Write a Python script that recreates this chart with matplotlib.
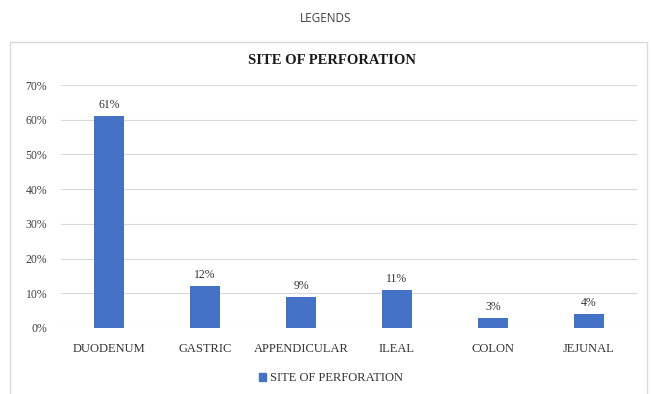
import matplotlib
matplotlib.use("Agg")
import matplotlib.pyplot as plt
from matplotlib.patches import Rectangle

categories = ["DUODENUM", "GASTRIC", "APPENDICULAR", "ILEAL", "COLON", "JEJUNAL"]
values = [61, 12, 9, 11, 3, 4]
yticks = [0, 10, 20, 30, 40, 50, 60, 70]
series_name = "SITE OF PERFORATION"

W, H = 652, 394
fig = plt.figure(figsize=(W / 100, H / 100), dpi=100)
fig.patch.set_facecolor("white")

# chart box border (extends past bottom edge, as in the reference)
fig.patches.append(Rectangle((10 / W, -5 / H), 637 / W, (H - 42 + 5) / H,
                             transform=fig.transFigure, fill=False,
                             edgecolor="#d9d9d9", linewidth=1.0))

fig.text(326 / W, 1 - 18 / H, "LEGENDS", ha="center", va="center",
         fontsize=8.5, color="#404040", family="Open Sans")
fig.text(332 / W, 1 - 60 / H, "SITE OF PERFORATION", ha="center", va="center",
         fontsize=10.5, fontweight="bold", color="#1a1a1a", family="Liberation Serif")

ax = fig.add_axes([61 / W, 1 - 328 / H, 576 / W, 243 / H])
x = list(range(len(categories)))
ax.bar(x, values, width=0.32, color="#4472C4", zorder=3)
ax.set_xlim(-0.5, len(categories) - 0.5)
ax.set_ylim(0, 70)
ax.set_yticks(yticks)
ax.set_yticklabels([f"{v}%" for v in yticks], family="Liberation Serif",
                   fontsize=8.5, color="#404040")
ax.set_xticks(x)
ax.set_xticklabels(categories, family="Liberation Serif", fontsize=9, color="#333333")
ax.tick_params(axis="both", length=0)
ax.tick_params(axis="y", pad=10)
ax.tick_params(axis="x", pad=11)
ax.grid(axis="y", color="#d9d9d9", linewidth=0.8, zorder=0)
for s in ax.spines.values():
    s.set_visible(False)
for xi, v in zip(x, values):
    ax.annotate(f"{v}%", (xi, v), xytext=(0, 3.5), textcoords="offset points",
                ha="center", va="bottom", fontsize=8.5, color="#333333",
                family="Liberation Serif")

handle = Rectangle((0, 0), 1, 1, color="#4472C4")
fig.legend([handle], [series_name], loc="center", bbox_to_anchor=(331 / W, 1 - 378 / H),
           frameon=False, handlelength=0.6, handleheight=0.6, handletextpad=0.3,
           prop={"family": "Liberation Serif", "size": 9}, labelcolor="#333333")

fig.savefig("out.png", dpi=100, facecolor="white")
